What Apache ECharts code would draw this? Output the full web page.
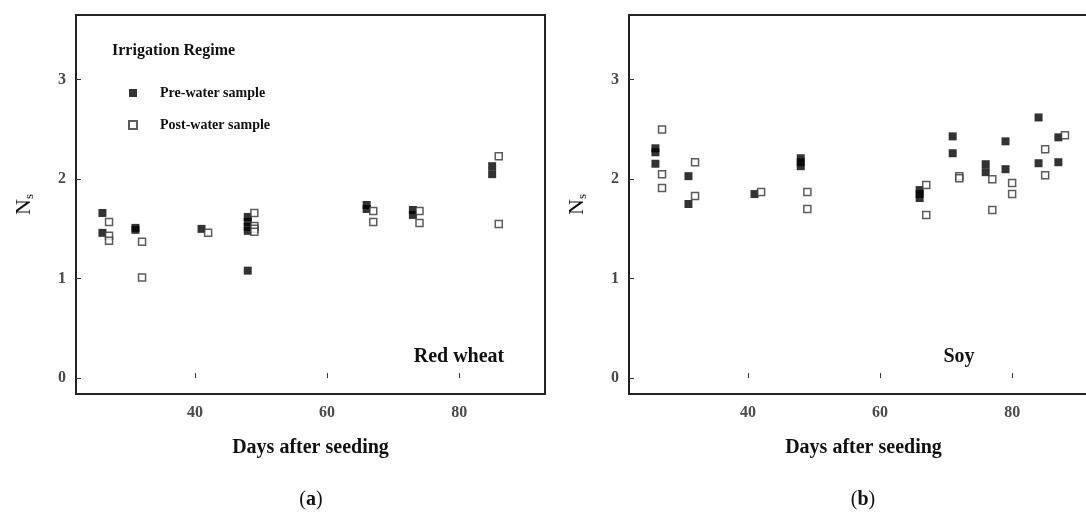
<!DOCTYPE html>
<html>
<head>
<meta charset="utf-8">
<script src="https://cdn.jsdelivr.net/npm/echarts@6/dist/echarts.min.js"></script>
<style>
  html, body { margin: 0; padding: 0; background: #fff; }
  #chart { width: 1086px; height: 514px; }
</style>
</head>
<body>
<div id="chart"></div>
<script>
// Ns readings as [day after seeding, Ns]
const wheatPre = [[26,1.66],[26,1.46],[31,1.51],[31,1.49],[41,1.50],[48,1.62],[48,1.57],[48,1.52],[48,1.48],[48,1.08],[66,1.74],[66,1.70],[73,1.69],[73,1.64],[85,2.13],[85,2.05]];
const wheatPost = [[27,1.57],[27,1.43],[27,1.38],[32,1.37],[32,1.01],[42,1.46],[49,1.66],[49,1.53],[49,1.50],[49,1.47],[67,1.68],[67,1.57],[74,1.68],[74,1.56],[86,2.23],[86,1.55]];
const soyPre = [[26,2.31],[26,2.27],[26,2.155],[31,2.03],[31,1.75],[41,1.85],[48,2.21],[48,2.17],[48,2.13],[66,1.89],[66,1.85],[66,1.81],[71,2.43],[71,2.26],[76,2.15],[76,2.07],[79,2.38],[79,2.10],[84,2.62],[84,2.16],[87,2.42],[87,2.17]];
const soyPost = [[27,2.50],[27,2.05],[27,1.91],[32,2.17],[32,1.83],[42,1.87],[49,1.87],[49,1.70],[67,1.94],[67,1.64],[72,2.03],[72,2.01],[77,2.00],[77,1.69],[80,1.96],[80,1.85],[85,2.30],[85,2.04],[88,2.44]];
const xTicks = [40, 60, 80];
const yTicks = [0, 1, 2, 3];
const crops = ['Red wheat', 'Soy'];
const captions = ['a', 'b'];

const SERIF = '"Liberation Serif", "DejaVu Serif", serif';

function xAxisFor(i) {
  return {
    type: 'value', gridIndex: i, min: 22, max: 93,
    splitLine: { show: false },
    axisLine: { show: false },
    axisTick: { show: true, inside: true, length: 5, customValues: xTicks, lineStyle: { color: '#333' } },
    axisLabel: { customValues: xTicks, margin: 11, color: '#4a4a4a', fontFamily: SERIF, fontWeight: 'bold', fontSize: 16 },
    name: 'Days after seeding', nameLocation: 'middle', nameGap: 44,
    nameTextStyle: { fontFamily: SERIF, fontWeight: 'bold', fontSize: 20, color: '#111' }
  };
}
function yAxisFor(i) {
  return {
    type: 'value', gridIndex: i, min: -0.16, max: 3.65,
    splitLine: { show: false },
    axisLine: { show: false },
    axisTick: { show: true, inside: true, length: 5, customValues: yTicks, lineStyle: { color: '#333' } },
    axisLabel: { customValues: yTicks, margin: 10, color: '#4a4a4a', fontFamily: SERIF, fontWeight: 'bold', fontSize: 16 },
    name: '{n|N}{s|s}', nameLocation: 'middle', nameGap: 40, nameRotate: 90,
    nameTextStyle: {
      rich: {
        n: { fontFamily: SERIF, fontSize: 22, color: '#111' },
        s: { fontFamily: SERIF, fontSize: 13, color: '#111', padding: [10, 0, 0, 0] }
      }
    }
  };
}
function preSeries(data, i) {
  return {
    name: 'Pre-water sample', type: 'scatter', xAxisIndex: i, yAxisIndex: i,
    symbol: 'rect', symbolSize: 8, data: data, z: 2,
    itemStyle: { color: '#000' }
  };
}
function postSeries(data, i) {
  return {
    name: 'Post-water sample', type: 'scatter', xAxisIndex: i, yAxisIndex: i,
    symbol: 'rect', symbolSize: 7, data: data, z: 3,
    itemStyle: { color: '#fff', borderColor: '#333', borderWidth: 1.5 }
  };
}

const chart = echarts.init(document.getElementById('chart'), null, { renderer: 'canvas' });
chart.setOption({
  animation: false,
  backgroundColor: '#fff',
  grid: [
    { left: 76, top: 15, width: 469, height: 379, outerBoundsMode: 'none', show: true, borderColor: '#222', borderWidth: 2, backgroundColor: 'transparent' },
    { left: 629, top: 15, width: 469, height: 379, outerBoundsMode: 'none', show: true, borderColor: '#222', borderWidth: 2, backgroundColor: 'transparent' }
  ],
  xAxis: [xAxisFor(0), xAxisFor(1)],
  yAxis: [yAxisFor(0), yAxisFor(1)],
  legend: {
    orient: 'vertical', left: 123, top: 81, itemWidth: 8, itemHeight: 8, itemGap: 18,
    data: ['Pre-water sample', 'Post-water sample'],
    textStyle: { fontFamily: SERIF, fontWeight: 'bold', fontSize: 14, color: '#111', padding: [0, 0, 0, 18] }
  },
  graphic: [
    { type: 'text', left: 112, top: 43, style: { text: 'Irrigation Regime', font: 'bold 16px ' + SERIF, fill: '#111' } },
    { type: 'text', x: 459, y: 357, style: { text: crops[0], font: 'bold 20px ' + SERIF, fill: '#111', align: 'center', verticalAlign: 'middle' } },
    { type: 'text', x: 959, y: 357, style: { text: crops[1], font: 'bold 20px ' + SERIF, fill: '#111', align: 'center', verticalAlign: 'middle' } },
    { type: 'text', x: 311, y: 500, style: { text: '({b|' + captions[0] + '})', font: '20px ' + SERIF, fill: '#111', align: 'center', verticalAlign: 'middle', rich: { b: { font: 'bold 20px ' + SERIF, fill: '#111' } } } },
    { type: 'text', x: 863, y: 500, style: { text: '({b|' + captions[1] + '})', font: '20px ' + SERIF, fill: '#111', align: 'center', verticalAlign: 'middle', rich: { b: { font: 'bold 20px ' + SERIF, fill: '#111' } } } }
  ],
  series: [
    preSeries(wheatPre, 0), postSeries(wheatPost, 0),
    preSeries(soyPre, 1), postSeries(soyPost, 1)
  ]
});
</script>
</body>
</html>
